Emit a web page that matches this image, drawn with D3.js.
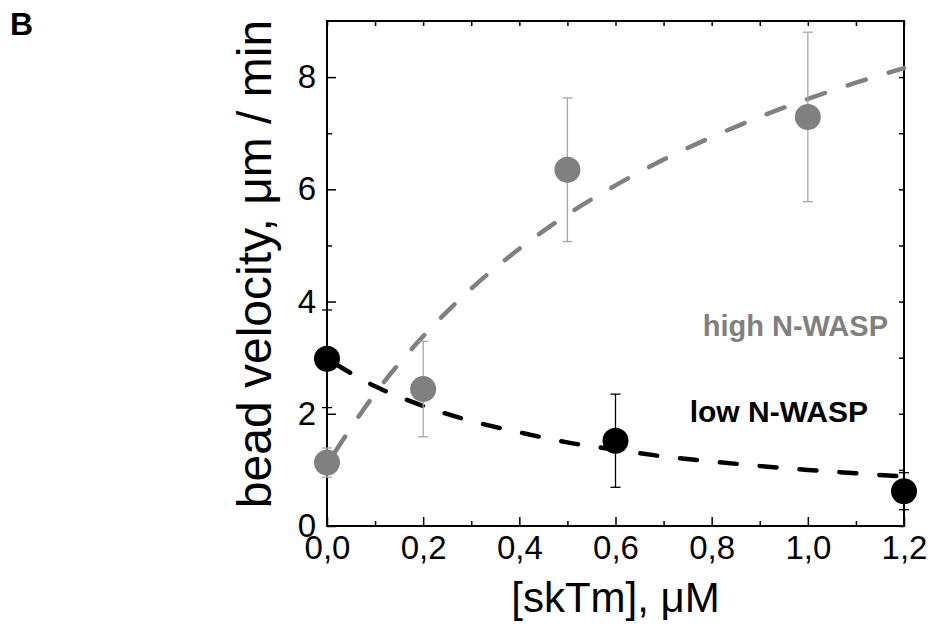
<!DOCTYPE html>
<html lang="en">
<head>
<meta charset="UTF-8" />
<title>bead velocity vs skTm</title>
<script src="https://cdn.jsdelivr.net/npm/d3@7"></script>
<style>
  html, body { margin: 0; padding: 0; background: #fff; }
  svg text { font-family: "Liberation Sans", Arial, sans-serif; }
</style>
</head>
<body>
<div id="chart"></div>
<script>
const highX   = [0, 0.2, 0.5, 1.0];
const highY   = [1.13, 2.44, 6.35, 7.29];
const highErr = [0.26, 0.85, 1.28, 1.51];

const lowX   = [0, 0.6, 1.2];
const lowY   = [2.98, 1.52, 0.62];
const lowErr = [0.87, 0.83, 0.33];

// dashed fit curves
const fitX     = [0, 0.1, 0.2, 0.3, 0.4, 0.5, 0.6, 0.7, 0.8, 0.9, 1.0, 1.1, 1.2];
const highFitY = [1.1, 2.36, 3.38, 4.23, 4.94, 5.55, 6.07, 6.53, 6.93, 7.29, 7.61, 7.9, 8.16];
const lowFitY  = [2.98, 2.49, 2.14, 1.87, 1.67, 1.49, 1.36, 1.24, 1.15, 1.07, 1.0, 0.94, 0.88];

// ticks
const xTicks = [0, 0.2, 0.4, 0.6, 0.8, 1.0, 1.2];
const xTickLabels = ["0,0", "0,2", "0,4", "0,6", "0,8", "1,0", "1,2"];
const xMinor = [0.1, 0.3, 0.5, 0.7, 0.9, 1.1];
const yTicks = [0, 2, 4, 6, 8];
const yTickLabels = ["0", "2", "4", "6", "8"];
const yMinor = [1, 3, 5, 7];

const W = 932, H = 624;
const m = { left: 327, right: 28, top: 21, bottom: 98 };
const iw = W - m.left - m.right, ih = H - m.top - m.bottom;

const GRAY = '#808080', GRAY_ERR = '#a6a6a6';

const svg = d3.select('#chart').append('svg')
  .attr('width', W).attr('height', H);

const x = d3.scaleLinear().domain([0, 1.2]).range([0, iw]);
const y = d3.scaleLinear().domain([0, 9]).range([ih, 0]);

const g = svg.append('g').attr('transform', `translate(${m.left},${m.top})`);

/* axes: ticks point inward on all four sides */
function styleAxis(sel) {
  sel.select('.domain').remove();
  sel.selectAll('.tick line').attr('stroke', '#000').attr('stroke-width', 1.5);
  sel.selectAll('.tick text').attr('fill', '#000').style('font-size', '33px');
}

g.append('g').attr('transform', `translate(0,${ih})`)
  .call(d3.axisBottom(x).tickValues(xTicks).tickSize(-9).tickPadding(10)
    .tickFormat((d, i) => xTickLabels[i]))
  .call(styleAxis);
g.append('g').attr('transform', `translate(0,${ih})`)
  .call(d3.axisBottom(x).tickValues(xMinor).tickSize(-5).tickFormat(''))
  .call(styleAxis);
g.append('g')
  .call(d3.axisTop(x).tickValues(xTicks.concat(xMinor)).tickSize(-5).tickFormat(''))
  .call(styleAxis);

g.append('g')
  .call(d3.axisLeft(y).tickValues(yTicks).tickSize(-9).tickPadding(11)
    .tickFormat((d, i) => yTickLabels[i]))
  .call(styleAxis);
g.append('g')
  .call(d3.axisLeft(y).tickValues(yMinor).tickSize(-5).tickFormat(''))
  .call(styleAxis);
g.append('g').attr('transform', `translate(${iw},0)`)
  .call(d3.axisRight(y).tickValues(yTicks.concat(yMinor)).tickSize(-5).tickFormat(''))
  .call(styleAxis);

// frame
g.append('rect')
  .attr('width', iw).attr('height', ih)
  .attr('fill', 'none').attr('stroke', '#000').attr('stroke-width', 2);

/* fit curves */
const line = d3.line().x(d => x(d[0])).y(d => y(d[1])).curve(d3.curveMonotoneX);

g.append('path')
  .datum(fitX.map((v, i) => [v, highFitY[i]]))
  .attr('d', line)
  .attr('fill', 'none').attr('stroke', GRAY).attr('stroke-width', 4.5)
  .attr('stroke-linecap', 'round').attr('stroke-dasharray', '19 24')
  .attr('stroke-dashoffset', -14);

g.append('path')
  .datum(fitX.map((v, i) => [v, lowFitY[i]]))
  .attr('d', line)
  .attr('fill', 'none').attr('stroke', '#000').attr('stroke-width', 4.5)
  .attr('stroke-linecap', 'round').attr('stroke-dasharray', '17 23')
  .attr('stroke-dashoffset', -10);

/* error bars + points */
function drawSeries(xs, ys, es, color, errColor) {
  const data = xs.map((v, i) => ({ x: v, y: ys[i], e: es[i] }));
  const eb = g.append('g').attr('stroke', errColor).attr('stroke-width', 1.3);
  eb.selectAll('line.v').data(data).join('line')
    .attr('x1', d => x(d.x)).attr('x2', d => x(d.x))
    .attr('y1', d => y(d.y - d.e)).attr('y2', d => y(d.y + d.e));
  eb.selectAll('line.t').data(data).join('line')
    .attr('x1', d => x(d.x) - 5).attr('x2', d => x(d.x) + 5)
    .attr('y1', d => y(d.y + d.e)).attr('y2', d => y(d.y + d.e));
  eb.selectAll('line.b').data(data).join('line')
    .attr('x1', d => x(d.x) - 5).attr('x2', d => x(d.x) + 5)
    .attr('y1', d => y(d.y - d.e)).attr('y2', d => y(d.y - d.e));
  g.append('g').selectAll('circle').data(data).join('circle')
    .attr('cx', d => x(d.x)).attr('cy', d => y(d.y))
    .attr('r', 13).attr('fill', color);
}
drawSeries(highX, highY, highErr, GRAY, GRAY_ERR);
drawSeries(lowX, lowY, lowErr, '#000', '#000');

/* series labels */
g.append('text')
  .attr('x', iw - 16).attr('y', y(3.38))
  .attr('text-anchor', 'end')
  .style('font-size', '29px').style('font-weight', 'bold')
  .attr('fill', GRAY)
  .text('high N-WASP');
g.append('text')
  .attr('x', iw - 36).attr('y', y(1.86))
  .attr('text-anchor', 'end')
  .style('font-size', '30px').style('font-weight', 'bold')
  .attr('fill', '#000')
  .text('low N-WASP');

/* axis titles */
svg.append('text')
  .attr('x', m.left + iw / 2).attr('y', 612)
  .attr('text-anchor', 'middle')
  .style('font-size', '42px')
  .text('[skTm], μM');

svg.append('text')
  .attr('transform', `translate(271,264) rotate(-90)`)
  .attr('text-anchor', 'middle')
  .style('font-size', '48px')
  .text('bead velocity, μm / min');

/* panel letter */
svg.append('text')
  .attr('x', 10).attr('y', 35)
  .style('font-size', '32px').style('font-weight', 'bold')
  .text('B');
</script>
</body>
</html>
